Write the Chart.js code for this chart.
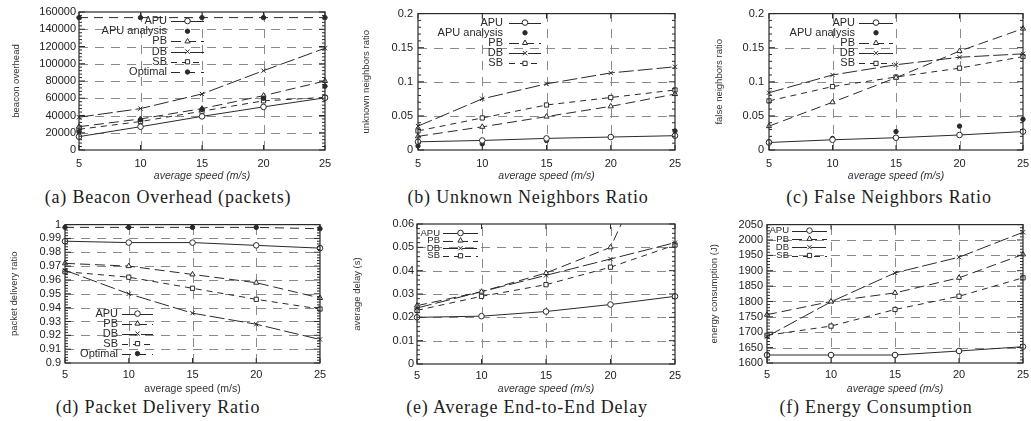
<!DOCTYPE html>
<html>
<head>
<meta charset="utf-8">
<script src="https://cdn.jsdelivr.net/npm/chart.js@4.4.1/dist/chart.umd.min.js"></script>
<style>
html, body { margin: 0; padding: 0; background: #fff; }
body { width: 1031px; height: 421px; position: relative; overflow: hidden; }
.cap { position: absolute; font-family: "Liberation Serif", "DejaVu Serif", serif; font-size: 18px; line-height: 20px;
       color: #1c1c1c; white-space: nowrap; transform: translateX(-50%); letter-spacing: 0.8px; }
</style>
</head>
<body>
<div class="cap" style="left:168px;top:187px">(a) Beacon Overhead (packets)</div>
<div class="cap" style="left:528px;top:187px">(b) Unknown Neighbors Ratio</div>
<div class="cap" style="left:889px;top:187px">(c) False Neighbors Ratio</div>
<div class="cap" style="left:158px;top:397px">(d) Packet Delivery Ratio</div>
<div class="cap" style="left:527px;top:397px">(e) Average End-to-End Delay</div>
<div class="cap" style="left:876px;top:397px">(f) Energy Consumption</div>
<script>
const speeds = [5, 10, 15, 20, 25];
const speedTicks = [5, 10, 15, 20, 25];

// (a) beacon overhead
const beaconTicks = [0, 20000, 40000, 60000, 80000, 100000, 120000, 140000, 160000];
const beaconAPU = [15500, 27000, 39000, 50000, 60500];
const beaconAnalysis = [21000, 35000, 47000, 60000, 74000];
const beaconPB = [27000, 36000, 48000, 63000, 80000];
const beaconDB = [38000, 48000, 65000, 92000, 118000];
const beaconSB = [24000, 33000, 45000, 57000, 61000];
const beaconOptimal = [153500, 153500, 153500, 153500, 153500];

// (b) unknown neighbors ratio
const unknownTicks = [0, 0.05, 0.1, 0.15, 0.2];
const unknownAPU = [0.012, 0.014, 0.017, 0.019, 0.021];
const unknownAnalysis = [0.006, 0.009, 0.014, 0.019, 0.028];
const unknownPB = [0.020, 0.034, 0.049, 0.064, 0.082];
const unknownDB = [0.035, 0.075, 0.097, 0.113, 0.122];
const unknownSB = [0.028, 0.047, 0.066, 0.077, 0.088];

// (c) false neighbors ratio
const falseTicks = [0, 0.05, 0.1, 0.15, 0.2];
const falseAPU = [0.011, 0.015, 0.018, 0.022, 0.027];
const falseAnalysis = [0.012, 0.017, 0.027, 0.035, 0.045];
const falsePB = [0.035, 0.070, 0.106, 0.145, 0.178];
const falseDB = [0.084, 0.110, 0.125, 0.136, 0.141];
const falseSB = [0.072, 0.093, 0.107, 0.120, 0.137];

// (d) packet delivery ratio
const pdrTicks = [0.9, 0.91, 0.92, 0.93, 0.94, 0.95, 0.96, 0.97, 0.98, 0.99, 1];
const pdrAPU = [0.988, 0.987, 0.987, 0.985, 0.983];
const pdrPB = [0.972, 0.970, 0.964, 0.958, 0.947];
const pdrDB = [0.967, 0.950, 0.936, 0.928, 0.917];
const pdrSB = [0.966, 0.962, 0.954, 0.946, 0.939];
const pdrOptimal = [0.998, 0.998, 0.998, 0.998, 0.997];

// (e) average end-to-end delay
const delayTicks = [0, 0.01, 0.02, 0.03, 0.04, 0.05, 0.06];
const delayAPU = [0.020, 0.0205, 0.0225, 0.0255, 0.029];
const delayPB = [0.025, 0.031, 0.039, 0.050, 0.11];
const delayDB = [0.024, 0.031, 0.038, 0.045, 0.052];
const delaySB = [0.023, 0.029, 0.034, 0.0415, 0.051];

// (f) energy consumption
const energyTicks = [1600, 1650, 1700, 1750, 1800, 1850, 1900, 1950, 2000, 2050];
const energyAPU = [1626, 1626, 1626, 1639, 1653];
const energyPB = [1757, 1800, 1828, 1877, 1953];
const energyDB = [1686, 1799, 1893, 1944, 2025];
const energySB = [1690, 1720, 1774, 1817, 1877];

Chart.defaults.font.family = '"Liberation Sans", Arial, sans-serif';
Chart.defaults.color = '#222';

const ink = '#2a2a2a';

const styles = {
    APU: { borderDash: [], pointStyle: 'circle', pointBackgroundColor: '#fff', pointRadius: 2.8 },
    analysis: { showLine: false, pointStyle: 'circle', pointBackgroundColor: ink, pointRadius: 2.2 },
    PB: { borderDash: [10, 5], pointStyle: 'triangle', pointBackgroundColor: '#fff', pointRadius: 3 },
    DB: { borderDash: [15, 4], pointStyle: 'crossRot', pointBackgroundColor: '#fff', pointRadius: 3 },
    SB: { borderDash: [6, 5], pointStyle: 'rect', pointBackgroundColor: '#fff', pointRadius: 3 },
    optimal: { borderDash: [9, 6], pointStyle: 'circle', pointBackgroundColor: ink, pointRadius: 2.2 }
};

function series(label, ys, kind) {
    return Object.assign({
        label: label,
        data: speeds.map((s, i) => ({ x: s, y: ys[i] })),
        borderColor: ink,
        borderWidth: 1,
        pointBorderColor: ink,
        pointBorderWidth: 1,
        tension: 0,
        clip: { left: 6, right: 6, top: 0, bottom: 6 }
    }, styles[kind]);
}

// gnuplot-like frame: dashed grid, border, inward tics
const gnuFrame = {
    id: 'gnuFrame',
    beforeDatasetsDraw(chart) {
        const { ctx, chartArea: a, scales: { x, y } } = chart;
        ctx.save();
        ctx.strokeStyle = '#8a8a8a';
        ctx.lineWidth = 1;
        ctx.setLineDash([9, 7]);
        y.ticks.forEach(t => {
            const py = Math.round(y.getPixelForValue(t.value)) + 0.5;
            if (py <= a.top + 2 || py >= a.bottom - 2) return;
            ctx.beginPath(); ctx.moveTo(a.left, py); ctx.lineTo(a.right, py); ctx.stroke();
        });
        x.ticks.forEach(t => {
            const px = Math.round(x.getPixelForValue(t.value)) + 0.5;
            if (px <= a.left + 2 || px >= a.right - 2) return;
            ctx.beginPath(); ctx.moveTo(px, a.bottom); ctx.lineTo(px, a.top); ctx.stroke();
        });
        ctx.restore();
    },
    afterDatasetsDraw(chart) {
        const { ctx, chartArea: a, scales: { x, y } } = chart;
        ctx.save();
        ctx.strokeStyle = ink;
        ctx.setLineDash([]);
        ctx.lineWidth = 1.2;
        ctx.strokeRect(a.left, a.top, a.right - a.left, a.bottom - a.top);
        ctx.beginPath();
        x.ticks.forEach(t => {
            const px = x.getPixelForValue(t.value);
            ctx.moveTo(px, a.bottom); ctx.lineTo(px, a.bottom - 5);
            ctx.moveTo(px, a.top); ctx.lineTo(px, a.top + 5);
        });
        y.ticks.forEach((t, i) => {
            const py = y.getPixelForValue(t.value);
            ctx.moveTo(a.left, py); ctx.lineTo(a.left + 6, py);
            ctx.moveTo(a.right, py); ctx.lineTo(a.right - 6, py);
            const next = y.ticks[i + 1];
            if (!next) return;
            for (let k = 1; k < 5; k++) {
                const pm = y.getPixelForValue(t.value + (next.value - t.value) * k / 5);
                ctx.moveTo(a.left, pm); ctx.lineTo(a.left + 3, pm);
                ctx.moveTo(a.right, pm); ctx.lineTo(a.right - 3, pm);
            }
        });
        ctx.lineWidth = 1;
        ctx.stroke();

        // key, text right aligned then sample
        const lg = chart.options.plugins.gnuKey;
        ctx.font = lg.size + 'px "Liberation Sans", Arial, sans-serif';
        ctx.textAlign = 'right';
        ctx.textBaseline = 'middle';
        chart.data.datasets.forEach((ds, i) => {
            const tx = a.left + lg.tx;
            const ty = a.top + lg.ty + i * lg.dy;
            ctx.fillStyle = ink;
            ctx.fillText(ds.label, tx, ty);
            const x0 = tx + lg.gap, x1 = x0 + lg.len;
            if (ds.showLine !== false) {
                ctx.setLineDash(ds.borderDash || []);
                ctx.strokeStyle = ink;
                ctx.lineWidth = 1;
                ctx.beginPath(); ctx.moveTo(x0, Math.round(ty) + 0.5); ctx.lineTo(x1, Math.round(ty) + 0.5); ctx.stroke();
                ctx.setLineDash([]);
            }
            ctx.fillStyle = ds.pointBackgroundColor;
            ctx.strokeStyle = ink;
            ctx.lineWidth = 1;
            Chart.helpers.drawPoint(ctx, { pointStyle: ds.pointStyle, radius: ds.pointRadius, rotation: 0, borderWidth: 1 }, (x0 + x1) / 2, ty);
        });
        ctx.restore();
    }
};

const panelBox = {
    a: { L: 79, R: 325, T: 12, B: 150, yTitleX: 17, xTitleY: 175, xPad: 7, yPad: 3 },
    b: { L: 418, R: 675, T: 12, B: 150, yTitleX: 367, xTitleY: 175, xPad: 7, yPad: 5 },
    c: { L: 769, R: 1023, T: 12, B: 150, yTitleX: 720, xTitleY: 175, xPad: 7, yPad: 5 },
    d: { L: 65, R: 320, T: 224, B: 363, yTitleX: 15, xTitleY: 388, xPad: 5, yPad: 4 },
    e: { L: 417, R: 675, T: 224, B: 364, yTitleX: 358, xTitleY: 388, xPad: 5, yPad: 3 },
    f: { L: 767, R: 1023, T: 224, B: 363, yTitleX: 715, xTitleY: 388, xPad: 5, yPad: 4 }
};

function makeChart(box, yTitle, yTicks, datasets, key, italicX) {
    const left = box.yTitleX - 6, top = box.T - 10;
    const width = box.R + 14 - left, height = box.xTitleY + 7 - top;
    const cv = document.createElement('canvas');
    cv.width = width;
    cv.height = height;
    cv.style.cssText = 'position:absolute;left:' + left + 'px;top:' + top + 'px;width:' + width + 'px;height:' + height + 'px';
    document.body.appendChild(cv);

    new Chart(cv, {
        type: 'line',
        data: { datasets: datasets },
        options: {
            responsive: false,
            maintainAspectRatio: false,
            animation: false,
            layout: { padding: { left: 0, top: 10, right: 14, bottom: 0 } },
            plugins: {
                legend: { display: false },
                tooltip: { enabled: false },
                gnuKey: key
            },
            scales: {
                x: {
                    type: 'linear',
                    min: 5,
                    max: 25,
                    afterBuildTicks: s => { s.ticks = speedTicks.map(v => ({ value: v })); },
                    afterFit: s => { s.height = box.xTitleY + 7 - box.B; },
                    grid: { display: false, drawTicks: false },
                    border: { display: false },
                    ticks: { padding: box.xPad, autoSkip: false, maxRotation: 0, font: { size: 11 }, color: '#222' },
                    title: {
                        display: true,
                        text: 'average speed (m/s)',
                        padding: 0,
                        color: '#333',
                        font: { size: 10.5, style: italicX ? 'italic' : 'normal' }
                    }
                },
                y: {
                    type: 'linear',
                    min: yTicks[0],
                    max: yTicks[yTicks.length - 1],
                    afterBuildTicks: s => { s.ticks = yTicks.map(v => ({ value: v })); },
                    afterFit: s => { s.width = box.L - left; },
                    grid: { display: false, drawTicks: false },
                    border: { display: false },
                    ticks: { padding: box.yPad, autoSkip: false, font: { size: 11 }, color: '#222', callback: v => String(v) },
                    title: { display: true, text: yTitle, padding: 0, color: '#333', font: { size: 9.5 } }
                }
            }
        },
        plugins: [gnuFrame]
    });
}

makeChart(panelBox.a, 'beacon overhead', beaconTicks, [
    series('APU', beaconAPU, 'APU'),
    series('APU analysis', beaconAnalysis, 'analysis'),
    series('PB', beaconPB, 'PB'),
    series('DB', beaconDB, 'DB'),
    series('SB', beaconSB, 'SB'),
    series('Optimal', beaconOptimal, 'optimal')
], { tx: 88, ty: 9, dy: 10.2, gap: 4, len: 33, size: 11 }, true);

makeChart(panelBox.b, 'unknown neighbors ratio', unknownTicks, [
    series('APU', unknownAPU, 'APU'),
    series('APU analysis', unknownAnalysis, 'analysis'),
    series('PB', unknownPB, 'PB'),
    series('DB', unknownDB, 'DB'),
    series('SB', unknownSB, 'SB')
], { tx: 85, ty: 9, dy: 10.2, gap: 6, len: 32, size: 11 }, true);

makeChart(panelBox.c, 'false neighbors ratio', falseTicks, [
    series('APU', falseAPU, 'APU'),
    series('APU analysis', falseAnalysis, 'analysis'),
    series('PB', falsePB, 'PB'),
    series('DB', falseDB, 'DB'),
    series('SB', falseSB, 'SB')
], { tx: 86, ty: 9, dy: 10.2, gap: 4, len: 34, size: 11 }, true);

makeChart(panelBox.d, 'packet delivery ratio', pdrTicks, [
    series('APU', pdrAPU, 'APU'),
    series('PB', pdrPB, 'PB'),
    series('DB', pdrDB, 'DB'),
    series('SB', pdrSB, 'SB'),
    series('Optimal', pdrOptimal, 'optimal')
], { tx: 53, ty: 89, dy: 10, gap: 4, len: 31, size: 11 }, false);

makeChart(panelBox.e, 'average delay (s)', delayTicks, [
    series('APU', delayAPU, 'APU'),
    series('PB', delayPB, 'PB'),
    series('DB', delayDB, 'DB'),
    series('SB', delaySB, 'SB')
], { tx: 23, ty: 9, dy: 7.6, gap: 3, len: 35, size: 9.5 }, true);

makeChart(panelBox.f, 'energy consumption (J)', energyTicks, [
    series('APU', energyAPU, 'APU'),
    series('PB', energyPB, 'PB'),
    series('DB', energyDB, 'DB'),
    series('SB', energySB, 'SB')
], { tx: 22, ty: 6, dy: 8.3, gap: 3, len: 35, size: 9.5 }, true);
</script>
</body>
</html>
